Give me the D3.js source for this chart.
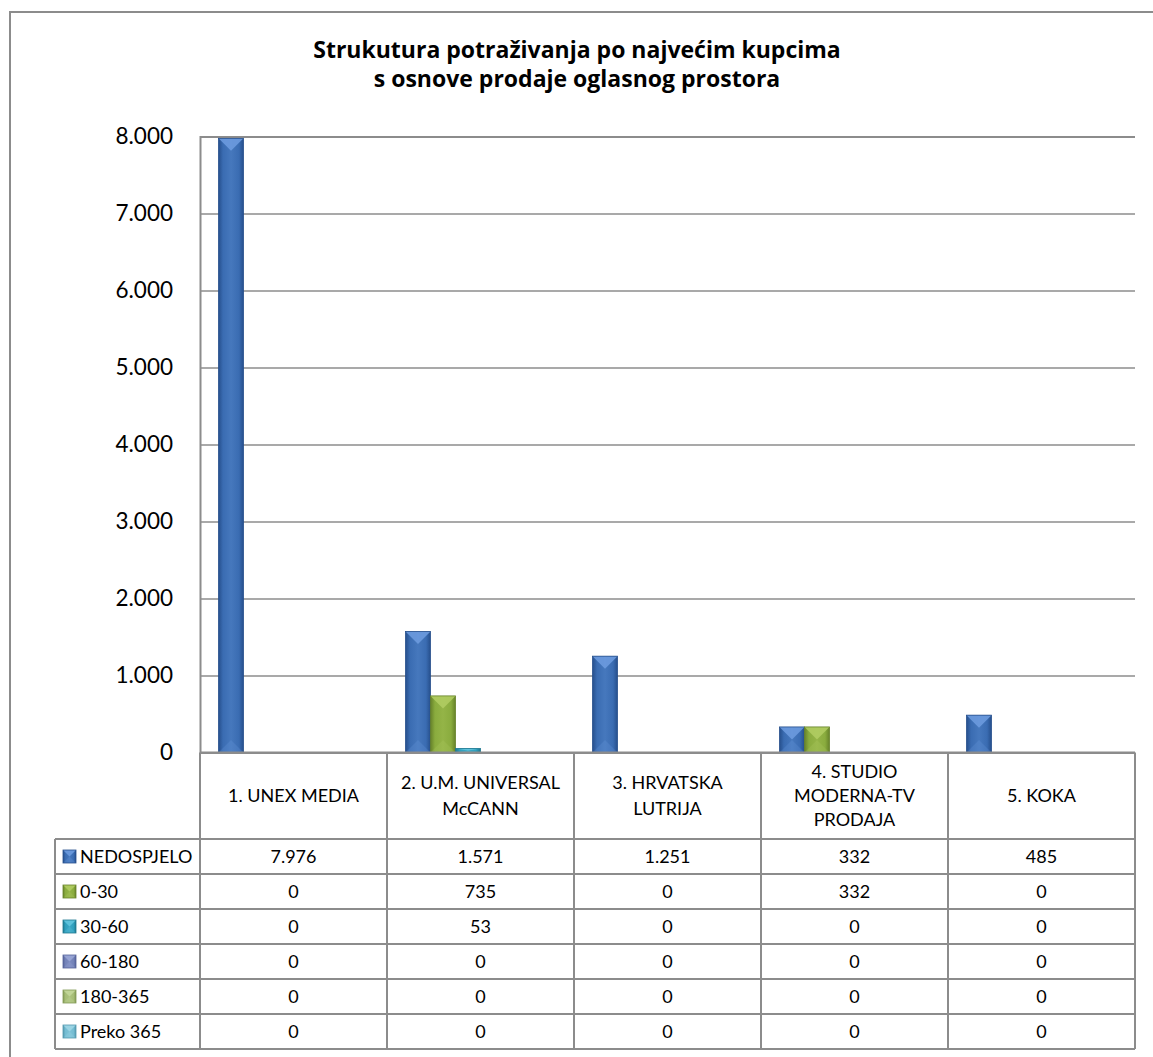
<!DOCTYPE html>
<html><head><meta charset="utf-8">
<script src="https://cdn.jsdelivr.net/npm/d3@7"></script>
<style>html,body{margin:0;padding:0;background:#fff;} svg{display:block;font-family:Lato, "Open Sans", sans-serif;}</style>
</head><body><svg id="c" width="1153" height="1057"></svg>
<script>
// ---------- data ----------
const titleLines = ["Strukutura potraživanja po najvećim kupcima", "s osnove prodaje oglasnog prostora"];
const categories = ["1. UNEX MEDIA", "2. U.M. UNIVERSAL McCANN", "3. HRVATSKA LUTRIJA", "4. STUDIO MODERNA-TV PRODAJA", "5. KOKA"];
const categoryLines = [["1. UNEX MEDIA"], ["2. U.M. UNIVERSAL", "McCANN"], ["3. HRVATSKA", "LUTRIJA"], ["4. STUDIO", "MODERNA-TV", "PRODAJA"], ["5. KOKA"]];
const seriesNames = ["NEDOSPJELO", "0-30", "30-60", "60-180", "180-365", "Preko 365"];
const nedospjelo = [7976, 1571, 1251, 332, 485];
const d0_30 = [0, 735, 0, 332, 0];
const d30_60 = [0, 53, 0, 0, 0];
const d60_180 = [0, 0, 0, 0, 0];
const d180_365 = [0, 0, 0, 0, 0];
const preko365 = [0, 0, 0, 0, 0];
const yTicks = [0, 1000, 2000, 3000, 4000, 5000, 6000, 7000, 8000];
const seriesColors = [
  {base: "#3a6cb2", light: "#6b9ade", dark: "#264f8c"},
  {base: "#8aac3e", light: "#b0cc62", dark: "#66822a"},
  {base: "#2f9fbd", light: "#62c4de", dark: "#1f7890"},
  {base: "#7382b8", light: "#9aa7d6", dark: "#55639a"},
  {base: "#a6bd76", light: "#c3d79a", dark: "#829a55"},
  {base: "#74bcd2", light: "#9fd6e6", dark: "#5398ae"}
];
const seriesValues = [nedospjelo, d0_30, d30_60, d60_180, d180_365, preko365];

// ---------- layout ----------
const L = 200, R = 1135, T = 136.5, B = 752.5;
const headerBottom = 839, rowH = 35, legendLeft = 55;
const gray = "#8c8c8c";
const tableFont = 18;
const svg = d3.select("#c");
const loc = d3.formatLocale({decimal: ",", thousands: ".", grouping: [3], currency: ["", ""]});
const fmt = loc.format(",d");

const x0 = d3.scaleBand().domain(categories).range([L, R]).paddingInner(0).paddingOuter(0);
const x1 = d3.scaleBand().domain(seriesNames).range([0, x0.bandwidth()]).paddingInner(0).paddingOuter(0.74);
const y = d3.scaleLinear().domain([0, 8000]).range([B, T]);

// outer border
svg.append("rect").attr("x", 10).attr("y", 12).attr("width", 1160).attr("height", 1070)
  .attr("fill", "#fff").attr("stroke", gray).attr("stroke-width", 2);

// title
svg.append("g").selectAll("text").data(titleLines).join("text")
  .attr("x", 577).attr("y", (d, i) => 58 + i * 29)
  .attr("text-anchor", "middle").attr("font-weight", "bold").attr("font-size", 23)
  .attr("font-family", "'Open Sans', Lato, sans-serif")
  .attr("fill", "#000").text(d => d);

// gridlines + y axis
const yAxis = d3.axisLeft(y).tickValues(yTicks).tickSize(-(R - L)).tickFormat(fmt).tickPadding(27);
const gy = svg.append("g").attr("transform", `translate(${L},0)`).call(yAxis);
gy.select(".domain").attr("stroke", gray).attr("stroke-width", 2);
gy.selectAll(".tick line").attr("stroke", gray).attr("stroke-width", 1.6);
gy.selectAll(".tick text").attr("font-size", 22.5).attr("fill", "#000").attr("font-family", "Lato, sans-serif");

// gradients
const defs = svg.append("defs");
seriesColors.forEach((c, i) => {
  const g = defs.append("linearGradient").attr("id", "g" + i).attr("x1", 0).attr("x2", 1).attr("y1", 0).attr("y2", 0);
  g.append("stop").attr("offset", 0).attr("stop-color", c.dark);
  g.append("stop").attr("offset", 0.18).attr("stop-color", c.base);
  g.append("stop").attr("offset", 0.5).attr("stop-color", d3.interpolateRgb(c.base, c.light)(0.25));
  g.append("stop").attr("offset", 0.82).attr("stop-color", c.base);
  g.append("stop").attr("offset", 1).attr("stop-color", c.dark);
});

function bevelBar(g, x, yTop, w, h, si) {
  const c = seriesColors[si];
  if (h <= 0) return;
  g.append("rect").attr("x", x).attr("y", yTop).attr("width", w).attr("height", h)
    .attr("fill", `url(#g${si})`);
  const d = Math.min(w / 2, h / 2);
  g.append("path").attr("d", `M${x},${yTop}L${x + w},${yTop}L${x + w / 2},${yTop + d}Z`).attr("fill", c.light).attr("opacity", 0.9);
  g.append("path").attr("d", `M${x},${yTop + h}L${x + w},${yTop + h}L${x + w / 2},${yTop + h - d}Z`).attr("fill", c.light).attr("opacity", 0.25);
  g.append("rect").attr("x", x).attr("y", yTop).attr("width", w).attr("height", h)
    .attr("fill", "none").attr("stroke", c.dark).attr("stroke-width", 0.8);
}

// bars
const barsG = svg.append("g");
seriesValues.forEach((vals, si) => {
  vals.forEach((v, ci) => {
    const bx = x0(categories[ci]) + x1(seriesNames[si]);
    const yt = y(v);
    bevelBar(barsG, bx, yt, x1.bandwidth(), B - yt, si);
  });
});

// table
const tg = svg.append("g");
const lineAttr = sel => sel.attr("stroke", gray).attr("stroke-width", 2);
tg.append("line").attr("x1", L).attr("x2", R).attr("y1", B).attr("y2", B).call(lineAttr);
for (let r = 0; r <= seriesNames.length; r++) {
  const yy = headerBottom + r * rowH;
  tg.append("line").attr("x1", legendLeft).attr("x2", R).attr("y1", yy).attr("y2", yy).call(lineAttr);
}
categories.concat([null]).forEach((c, i) => {
  const xx = c ? x0(c) : R;
  tg.append("line").attr("x1", xx).attr("x2", xx).attr("y1", B).attr("y2", headerBottom + seriesNames.length * rowH).call(lineAttr);
});
tg.append("line").attr("x1", legendLeft).attr("x2", legendLeft).attr("y1", headerBottom).attr("y2", headerBottom + seriesNames.length * rowH).call(lineAttr);

// header labels
categoryLines.forEach((lines, ci) => {
  const cx = x0(categories[ci]) + x0.bandwidth() / 2;
  const cy = (B + headerBottom) / 2;
  const lh = lines.length > 2 ? 24 : 26;
  lines.forEach((ln, k) => {
    tg.append("text").attr("x", cx).attr("y", cy + (k - (lines.length - 1) / 2) * lh)
      .attr("dy", "0.36em").attr("text-anchor", "middle").attr("font-size", tableFont).attr("fill", "#000").text(ln);
  });
});

// rows
seriesNames.forEach((s, si) => {
  const cy = headerBottom + si * rowH + rowH / 2;
  bevelBar(tg, 63, cy - 6.5, 13, 13, si);
  tg.append("text").attr("x", 80).attr("y", cy).attr("dy", "0.36em").attr("font-size", tableFont).attr("fill", "#000").text(s);
  seriesValues[si].forEach((v, ci) => {
    tg.append("text").attr("x", x0(categories[ci]) + x0.bandwidth() / 2).attr("y", cy).attr("dy", "0.36em")
      .attr("text-anchor", "middle").attr("font-size", tableFont).attr("fill", "#000").text(fmt(v));
  });
});
</script></body></html>
